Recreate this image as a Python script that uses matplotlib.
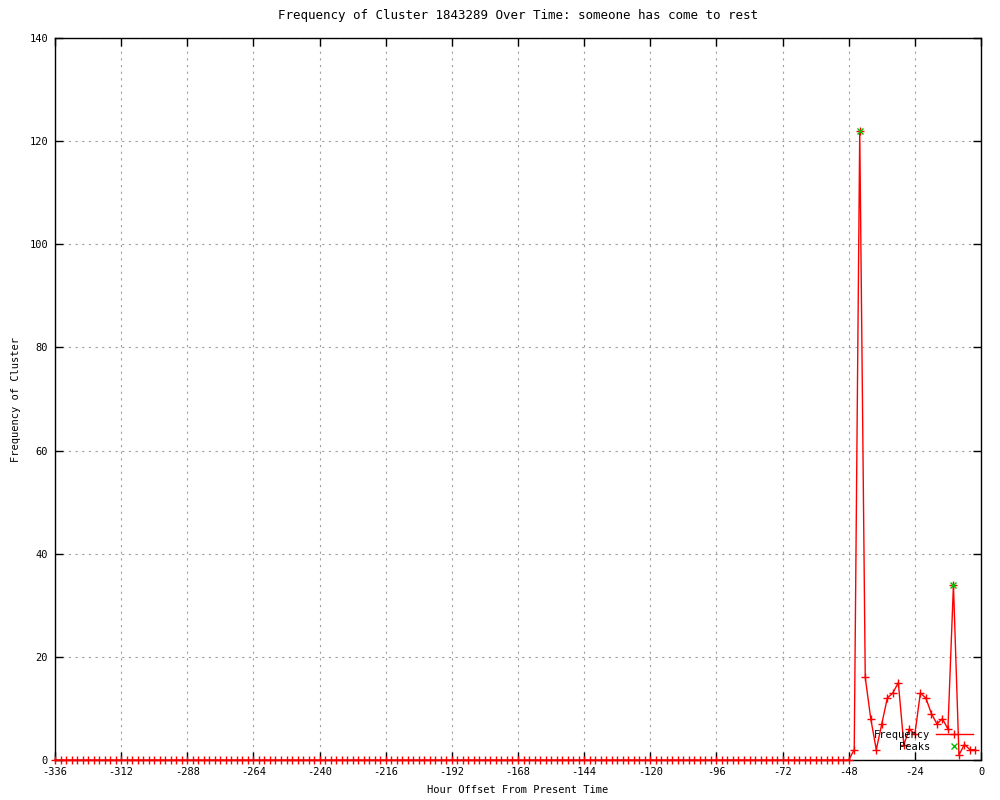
import matplotlib
matplotlib.use('Agg')
import matplotlib.pyplot as plt
from matplotlib.ticker import MultipleLocator

# hours before now, every 2 h; everything before -46 is zero
hours = list(range(-336, 0, 2))
recent = {-46: 2, -44: 122, -42: 16, -40: 8, -38: 2, -36: 7, -34: 12, -32: 13,
          -30: 15, -28: 3, -26: 6, -24: 5, -22: 13, -20: 12, -18: 9, -16: 7,
          -14: 8, -12: 6, -10: 34, -8: 1, -6: 3, -4: 2, -2: 2}
freq = [recent.get(h, 0) for h in hours]

peak_hours = [-44, -10]
peak_vals = [122, 34]

plt.rcParams['font.family'] = ['DejaVu Sans Mono']
plt.rcParams['font.size'] = 7.5
plt.rcParams['axes.unicode_minus'] = False

fig = plt.figure(figsize=(10, 8), dpi=100)
ax = fig.add_axes([0.055, 0.05, 0.926, 0.9025])

ax.plot(hours, freq, color='red', lw=1, marker='+', ms=5.5, mew=1,
        label='Frequency', clip_on=False, zorder=3)
ax.plot(peak_hours, peak_vals, color='#00c000', lw=0, marker='x', ms=5, mew=1,
        label='Peaks', zorder=4)

ax.set_xlim(-336, 0)
ax.set_ylim(0, 140)
ax.xaxis.set_major_locator(MultipleLocator(24))
ax.yaxis.set_major_locator(MultipleLocator(20))
ax.tick_params(direction='in', length=6, width=1, top=True, right=True, pad=5)
ax.grid(True, color='#a0a0a0', linestyle=(0, (2, 4)), lw=0.8)
for s in ax.spines.values():
    s.set_linewidth(1)
    s.set_zorder(2.5)

ax.set_title('Frequency of Cluster 1843289 Over Time: someone has come to rest', pad=14)
ax.set_xlabel('Hour Offset From Present Time', labelpad=6)
ax.set_ylabel('Frequency of Cluster', labelpad=6)

leg = ax.legend(loc='lower right', bbox_to_anchor=(1.0, 0.0), frameon=False,
                markerfirst=False, handlelength=3.5, borderpad=0.3, labelspacing=0.2,
                handletextpad=0.6)

fig.savefig('out.png', dpi=100)
